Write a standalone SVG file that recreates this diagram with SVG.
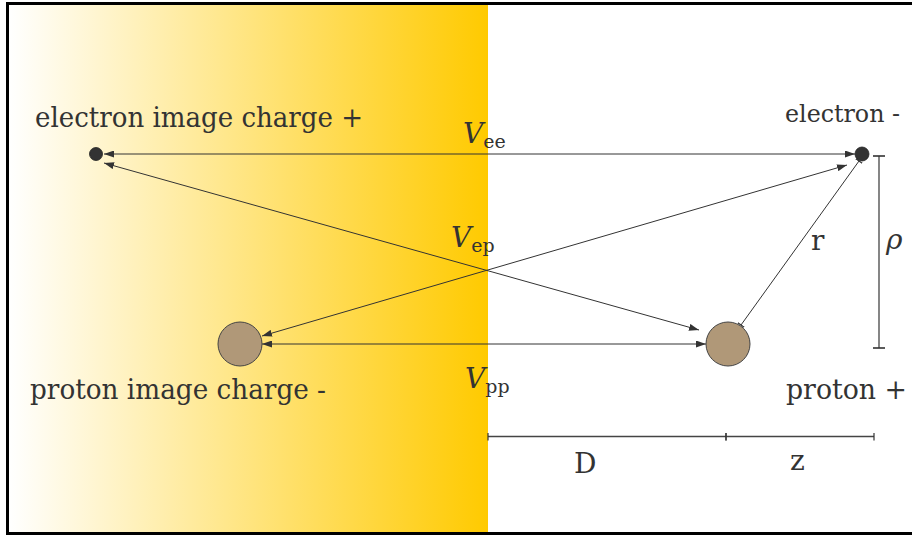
<svg xmlns="http://www.w3.org/2000/svg" width="912" height="536" viewBox="0 0 912 536">
  <defs>
    <linearGradient id="metal" x1="0" y1="0" x2="1" y2="0">
      <stop offset="0" stop-color="#FFFFFF"/>
      <stop offset="1" stop-color="#FFCA00"/>
    </linearGradient>
    <marker id="arr" viewBox="0 0 10 7" refX="10" refY="3.5" markerWidth="10" markerHeight="7" markerUnits="userSpaceOnUse" orient="auto-start-reverse">
      <path d="M0,0 L10,3.5 L0,7 z" fill="#333"/>
    </marker>
    <marker id="tee" viewBox="0 0 2 8" refX="1" refY="4" markerWidth="2" markerHeight="8" markerUnits="userSpaceOnUse" orient="auto">
      <path d="M1,0 V8" stroke="#333" stroke-width="1.2"/>
    </marker>
    <marker id="teeBig" viewBox="0 0 2 12" refX="1" refY="6" markerWidth="2" markerHeight="12" markerUnits="userSpaceOnUse" orient="auto">
      <path d="M1,0 V12" stroke="#333" stroke-width="1.6"/>
    </marker>
  </defs>
  <style>
    text { font-family: 'DejaVu Serif', 'Liberation Serif', serif; fill: #333; }
    .lbl { font-size: 28px; }
    .it { font-style: italic; }
    .sub { font-size: 19px; font-style: normal; }
    .conn { stroke: #333; stroke-width: 1; fill: none; }
    .dim { stroke: #444; stroke-width: 1.3; fill: none; }
    .small { fill: #333; stroke: #222; stroke-width: 0.8; }
    .big { fill: #B09878; stroke: #444; stroke-width: 1; }
  </style>

  <rect x="9" y="5" width="479" height="527" fill="url(#metal)"/>
  <rect x="7.5" y="3.5" width="1000" height="530" fill="none" stroke="#000" stroke-width="3"/>

  <g id="connectors">
    <line class="conn" x1="104" y1="154" x2="855" y2="154" marker-start="url(#arr)" marker-end="url(#arr)"/>
    <line class="conn" x1="104" y1="163" x2="699" y2="330" marker-start="url(#arr)" marker-end="url(#arr)"/>
    <line class="conn" x1="262" y1="336" x2="847" y2="165" marker-start="url(#arr)" marker-end="url(#arr)"/>
    <line class="conn" x1="262" y1="344" x2="706" y2="344" marker-start="url(#arr)" marker-end="url(#arr)"/>
    <line class="conn" x1="741" y1="325" x2="859" y2="161" marker-start="url(#tee)" marker-end="url(#tee)"/>
    <line class="dim" x1="879" y1="156" x2="879" y2="348" marker-start="url(#teeBig)" marker-end="url(#teeBig)"/>
    <line class="dim" x1="488" y1="436.5" x2="726" y2="436.5" marker-start="url(#tee)" marker-end="url(#tee)"/>
    <line class="dim" x1="726" y1="436.5" x2="874" y2="436.5" marker-start="url(#tee)" marker-end="url(#tee)"/>
  </g>

  <g id="node-electron-image">
    <circle class="small" cx="96" cy="154" r="6.5"/>
    <text class="lbl" x="35" y="127" textLength="328" lengthAdjust="spacingAndGlyphs">electron image charge +</text>
  </g>
  <g id="node-electron">
    <circle class="small" cx="862" cy="154" r="7"/>
    <text class="lbl" x="785" y="122" font-size="24" style="font-size:24px" textLength="115" lengthAdjust="spacingAndGlyphs">electron -</text>
  </g>
  <g id="node-proton-image">
    <circle class="big" cx="240" cy="344" r="22"/>
    <text class="lbl" x="30" y="399" textLength="296" lengthAdjust="spacingAndGlyphs">proton image charge -</text>
  </g>
  <g id="node-proton">
    <circle class="big" cx="728" cy="344" r="22"/>
    <text class="lbl" x="786" y="399" textLength="121" lengthAdjust="spacingAndGlyphs">proton +</text>
  </g>

  <g id="labels">
    <text class="lbl" x="463" y="143"><tspan class="it">V</tspan><tspan class="sub" dy="5">ee</tspan></text>
    <text class="lbl" x="451" y="247"><tspan class="it">V</tspan><tspan class="sub" dy="5">ep</tspan></text>
    <text class="lbl" x="465" y="388"><tspan class="it">V</tspan><tspan class="sub" dy="5">pp</tspan></text>
    <text class="lbl" x="811" y="250">r</text>
    <text class="lbl it" x="886" y="249">ρ</text>
    <text class="lbl" x="574" y="473">D</text>
    <text class="lbl" x="790" y="470">z</text>
  </g>
</svg>
